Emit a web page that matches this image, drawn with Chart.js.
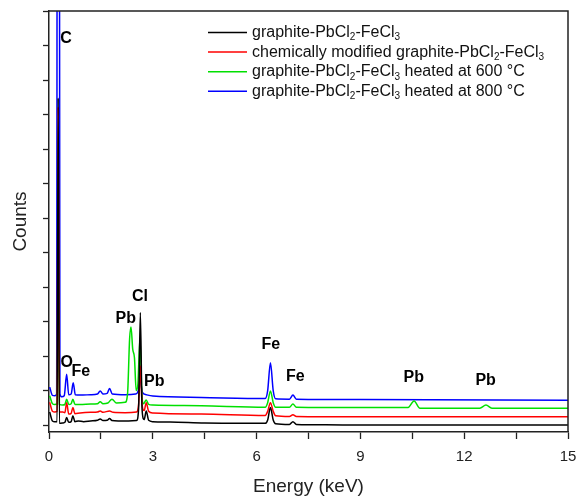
<!DOCTYPE html>
<html>
<head>
<meta charset="utf-8">
<script src="https://cdn.jsdelivr.net/npm/chart.js@4.4.1/dist/chart.umd.min.js"></script>
<style>
  html, body { margin: 0; padding: 0; background: #fff; }
</style>
</head>
<body>
<canvas id="myChart" width="577" height="498"></canvas>
<script>
// EDS spectra, [energy keV, counts a.u.]
const blackSpectrum = [
  [0.02, 0.38], [0.1, 0.12], [0.17, 0.1], [0.235, 0.1], [0.265, 9.48], [0.3, 0.05],
  [0.4, 0.06], [0.46, 0.08], [0.51, 0.22], [0.57, 0.08], [0.64, 0.1], [0.69, 0.27],
  [0.75, 0.1], [0.85, 0.12], [1.0, 0.1], [1.2, 0.12], [1.4, 0.14], [1.48, 0.18],
  [1.56, 0.13], [1.68, 0.14], [1.75, 0.19], [1.82, 0.13], [2.0, 0.12], [2.3, 0.12],
  [2.53, 0.13], [2.59, 0.5], [2.64, 3.26], [2.69, 0.45], [2.75, 0.16], [2.81, 0.41],
  [2.88, 0.14], [3.0, 0.1], [3.5, 0.09], [4.5, 0.06], [5.5, 0.05], [6.25, 0.05],
  [6.32, 0.15], [6.40, 0.51], [6.48, 0.15], [6.55, 0.04], [6.95, 0.02], [7.05, 0.1],
  [7.15, 0.02], [8.0, 0.01], [9.0, 0.0], [12.0, 0.0], [15.0, 0.0]
];
const redSpectrum = [
  [0.02, 0.66], [0.1, 0.4], [0.17, 0.38], [0.235, 0.4], [0.265, 9.22], [0.3, 0.38],
  [0.4, 0.38], [0.46, 0.36], [0.51, 0.65], [0.57, 0.32], [0.64, 0.34], [0.69, 0.51],
  [0.75, 0.33], [0.9, 0.35], [1.2, 0.37], [1.4, 0.38], [1.48, 0.41], [1.56, 0.37],
  [1.75, 0.41], [1.85, 0.37], [2.2, 0.36], [2.53, 0.38], [2.59, 0.6], [2.64, 1.71],
  [2.69, 0.6], [2.75, 0.42], [2.81, 0.65], [2.88, 0.4], [3.0, 0.35], [4.4, 0.32],
  [6.25, 0.28], [6.32, 0.4], [6.40, 0.65], [6.48, 0.4], [6.55, 0.27], [6.95, 0.25],
  [7.05, 0.3], [7.15, 0.25], [9.0, 0.24], [15.0, 0.24]
];
const greenSpectrum = [
  [0.02, 0.85], [0.1, 0.62], [0.17, 0.6], [0.235, 0.62], [0.265, 5.14], [0.3, 0.6],
  [0.4, 0.58], [0.46, 0.6], [0.51, 0.75], [0.57, 0.6], [0.64, 0.62], [0.69, 0.75],
  [0.75, 0.6], [0.9, 0.6], [1.2, 0.61], [1.4, 0.62], [1.48, 0.68], [1.56, 0.62],
  [1.7, 0.64], [1.82, 0.75], [1.95, 0.64], [2.2, 0.66], [2.27, 0.9], [2.33, 2.5],
  [2.37, 2.84], [2.42, 2.2], [2.47, 1.95], [2.52, 1.0], [2.57, 1.2], [2.63, 2.53],
  [2.68, 1.0], [2.73, 0.62], [2.81, 0.73], [2.88, 0.6], [3.0, 0.58], [4.4, 0.56],
  [6.25, 0.52], [6.32, 0.65], [6.40, 0.99], [6.48, 0.65], [6.55, 0.52], [6.95, 0.52],
  [7.05, 0.61], [7.15, 0.52], [9.0, 0.51], [10.38, 0.51], [10.55, 0.7], [10.72, 0.49],
  [12.45, 0.49], [12.63, 0.58], [12.8, 0.49], [15.0, 0.49]
];
const blueSpectrum = [
  [0.02, 1.1], [0.1, 0.86], [0.17, 0.85], [0.22, 0.9], [0.255, 40], [0.28, 40],
  [0.315, 0.9], [0.37, 0.82], [0.44, 0.85], [0.51, 1.47], [0.57, 0.88], [0.64, 0.9],
  [0.7, 1.23], [0.76, 0.88], [0.9, 0.87], [1.2, 0.88], [1.4, 0.9], [1.48, 0.99],
  [1.56, 0.9], [1.68, 0.92], [1.75, 1.06], [1.83, 0.9], [2.2, 0.88], [2.5, 0.9],
  [2.58, 1.0], [2.63, 1.33], [2.7, 0.95], [2.81, 0.88], [3.0, 0.84], [4.4, 0.8],
  [6.25, 0.77], [6.32, 1.0], [6.40, 1.81], [6.48, 1.0], [6.55, 0.76], [6.95, 0.75],
  [7.05, 0.87], [7.15, 0.75], [9.0, 0.74], [15.0, 0.72]
];

const seriesLabels = [
  "graphite-PbCl_2-FeCl_3",
  "chemically modified graphite-PbCl_2-FeCl_3",
  "graphite-PbCl_2-FeCl_3 heated at 600 °C",
  "graphite-PbCl_2-FeCl_3 heated at 800 °C",
];
const seriesColors = ["#000000", "#ff0000", "#00e000", "#0000ff"];

const xTicks = [0, 1.5, 3, 4.5, 6, 7.5, 9, 10.5, 12, 13.5, 15];
const yTicks = [0, 1, 2, 3, 4, 5, 6, 7, 8, 9, 10, 11, 12];

// element labels above peaks
const peakLabels = ["C", "O", "Fe", "Pb", "Cl", "Pb", "Fe", "Fe", "Pb", "Pb"];
const peakLabelX = [0.49, 0.51, 0.92, 2.22, 2.63, 3.04, 6.41, 7.12, 10.54, 12.62];
const peakLabelY = [11.21, 1.82, 1.55, 3.09, 3.71, 1.26, 2.34, 1.42, 1.38, 1.28];

const FONT = '"Liberation Sans", Arial, sans-serif';

// draws text where "_n" means subscript n
function drawRich(ctx, text, x, y, size) {
  const parts = text.split(/_(\d)/);
  for (let i = 0; i < parts.length; i++) {
    if (i % 2 === 0) {
      ctx.font = size + "px " + FONT;
      ctx.fillText(parts[i], x, y);
      x += ctx.measureText(parts[i]).width;
    } else {
      ctx.font = Math.round(size * 0.62) + "px " + FONT;
      ctx.fillText(parts[i], x, y + size * 0.32);
      x += ctx.measureText(parts[i]).width;
    }
  }
}

const extras = {
  id: "extras",
  afterDraw(chart) {
    const { ctx, chartArea: a, scales } = chart;
    ctx.save();
    // frame top and right
    ctx.strokeStyle = "#222";
    ctx.lineWidth = 1.5;
    ctx.beginPath();
    ctx.moveTo(a.left, a.top);
    ctx.lineTo(a.right, a.top);
    ctx.lineTo(a.right, a.bottom);
    ctx.stroke();

    // peak labels
    ctx.fillStyle = "#000";
    ctx.font = "bold 16px " + FONT;
    ctx.textAlign = "center";
    ctx.textBaseline = "middle";
    peakLabels.forEach((t, i) => {
      ctx.fillText(t, scales.x.getPixelForValue(peakLabelX[i]), scales.y.getPixelForValue(peakLabelY[i]));
    });

    // legend
    ctx.textAlign = "left";
    ctx.textBaseline = "middle";
    chart.data.datasets.forEach((ds, i) => {
      const y = 32.5 + i * 19.6;
      ctx.strokeStyle = ds.borderColor;
      ctx.lineWidth = 1.5;
      ctx.beginPath();
      ctx.moveTo(208, y);
      ctx.lineTo(247, y);
      ctx.stroke();
      ctx.fillStyle = "#111";
      drawRich(ctx, ds.label, 252, y, 16);
    });
    ctx.restore();
  }
};

const datasets = [blackSpectrum, redSpectrum, greenSpectrum, blueSpectrum].map((s, i) => ({
  label: seriesLabels[i],
  data: s.map(p => ({ x: p[0], y: p[1] })),
  borderColor: seriesColors[i],
  borderWidth: 1.5,
  pointRadius: 0,
  cubicInterpolationMode: "monotone",
  fill: false,
}));

const config = {
  type: "line",
  data: { datasets },
  options: {
    responsive: false,
    animation: false,
    layout: { padding: { top: 11, right: 9, left: 0, bottom: 0 } },
    plugins: { legend: { display: false }, tooltip: { enabled: false } },
    scales: {
      x: {
        type: "linear",
        min: 0,
        max: 15,
        afterBuildTicks: (s) => { s.ticks = xTicks.map(v => ({ value: v })); },
        afterFit: (s) => { s.height = 66; s.paddingRight = 0; s.paddingLeft = 0; },
        border: { color: "#222", width: 1.5 },
        grid: { drawOnChartArea: false, tickLength: 7, tickColor: "#222", tickWidth: 1.3 },
        ticks: {
          color: "#222",
          font: { family: FONT, size: 15 },
          padding: 9,
          maxRotation: 0,
          autoSkip: false,
          callback: (v) => (v % 3 === 0 ? String(v) : ""),
        },
        title: { display: true, text: "Energy (keV)", color: "#222", font: { family: FONT, size: 19 }, padding: { top: 0, bottom: 0 } },
      },
      y: {
        min: -0.2,
        max: 12,
        afterBuildTicks: (s) => { s.ticks = yTicks.map(v => ({ value: v })); },
        afterFit: (s) => { s.width = 49; s.paddingTop = 0; s.paddingBottom = 0; },
        border: { color: "#222", width: 1.5 },
        grid: { drawOnChartArea: false, tickLength: 6, tickColor: "#222", tickWidth: 1.3 },
        ticks: { display: false },
        title: { display: true, text: "Counts", color: "#222", font: { family: FONT, size: 19 }, padding: { top: 9, bottom: 0 } },
      },
    },
  },
  plugins: [extras],
};

const myChart = new Chart(document.querySelector("#myChart"), config);
</script>
</body>
</html>
